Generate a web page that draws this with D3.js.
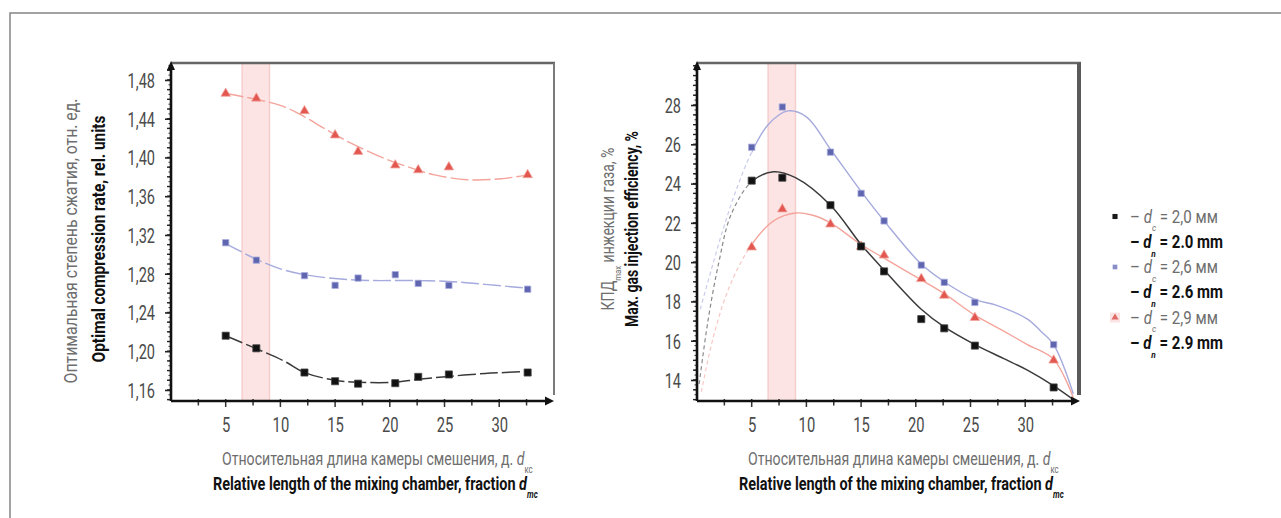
<!DOCTYPE html>
<html>
<head>
<meta charset="utf-8">
<script src="https://cdn.jsdelivr.net/npm/d3@7"></script>
<style>
  html, body { margin: 0; padding: 0; background: #fff; }
  svg { display: block; }
</style>
</head>
<body>
<svg id="fig" width="1281" height="518"></svg>
<script>
// ---- data -------------------------------------------------------------
// Relative mixing-chamber length at which the measurements were taken
const mixLength = [5, 7.8, 12.2, 15, 17.1, 20.5, 22.6, 25.4, 32.6];

// Optimal compression rate, rel. units (nozzle 2.0 / 2.6 / 2.9 mm)
const compression20 = [1.216, 1.203, 1.178, 1.169, 1.1665, 1.167, 1.1735, 1.176, 1.178];
const compression26 = [1.312, 1.294, 1.278, 1.268, 1.2755, 1.279, 1.270, 1.268, 1.264];
const compression29 = [1.466, 1.461, 1.448, 1.423, 1.406, 1.392, 1.387, 1.390, 1.382];

// Max. gas injection efficiency, %
const efficiency20 = [24.15, 24.3, 22.9, 20.8, 19.53, 17.1, 16.63, 15.75, 13.62];
const efficiency26 = [25.85, 27.9, 25.6, 23.5, 22.1, 19.85, 18.97, 17.95, 15.8];
const efficiency29 = [20.76, 22.7, 21.93, 20.8, 20.35, 19.15, 18.3, 17.17, 15.0];

// Smoothed trend lines, [x, y]
const trendCompression20 = [[5,1.216],[7.3,1.205],[10.3,1.190],[12.2,1.178],[15,1.170],[17.1,1.168],[20.5,1.168],[22.6,1.171],[25.4,1.174],[28.7,1.177],[30.5,1.178],[32.6,1.179]];
const trendCompression26 = [[5,1.311],[7.8,1.295],[10,1.285],[12.2,1.279],[15,1.275],[18.3,1.273],[21.6,1.273],[25.4,1.272],[28.7,1.269],[32.6,1.265]];
const trendCompression29 = [[5,1.466],[7.8,1.460],[10.2,1.453],[12.2,1.442],[14,1.430],[16.4,1.415],[19.5,1.399],[22,1.389],[24.1,1.382],[27.1,1.377],[30.2,1.378],[32.6,1.382]];

const trendEfficiency20 = [[0.2,13.8],[1,17.0],[2,20.0],[3.1,22.4],[5,24.1],[7,24.6],[9,24.3],[12.2,22.9],[15,20.9],[17.1,19.6],[20.5,17.6],[22.6,16.7],[25.4,15.8],[28,15.1],[30.2,14.5],[32.6,13.7],[34.4,13.0]];
const trendEfficiency26 = [[0.3,17.6],[1.3,19.6],[2.4,21.7],[3.6,23.7],[5,25.6],[6.5,27.0],[8.3,27.7],[10,27.4],[12.2,25.75],[15,23.6],[17.1,22.1],[20.5,19.9],[22.6,19.0],[25.4,18.1],[27.4,17.8],[30.2,17.1],[31.4,16.5],[32.6,15.8],[34.4,13.3]];
const trendEfficiency29 = [[0.4,13.4],[1.5,16.2],[3,18.8],[5,20.9],[7,22.1],[9,22.5],[10.5,22.4],[12.2,22.0],[15,20.9],[17.1,20.2],[20.5,19.1],[22.6,18.4],[25.4,17.3],[28,16.5],[30.2,15.8],[32.6,15.05],[34.4,13.1]];

// Axis ticks and labels
const xTicks = [5, 10, 15, 20, 25, 30];
const xTickLabels = ["5", "10", "15", "20", "25", "30"];
const yTicksCompression = [1.16, 1.20, 1.24, 1.28, 1.32, 1.36, 1.40, 1.44, 1.48];
const yTickLabelsCompression = ["1,16", "1,20", "1,24", "1,28", "1,32", "1,36", "1,40", "1,44", "1,48"];
const yTicksEfficiency = [14, 16, 18, 20, 22, 24, 26, 28];
const yTickLabelsEfficiency = ["14", "16", "18", "20", "22", "24", "26", "28"];

// Recommended mixing-chamber length range
const optimalZone = [6.5, 9.0];

// Legend entries
const legendRu = ["2,0 мм", "2,6 мм", "2,9 мм"];
const legendEn = ["2.0 mm", "2.6 mm", "2.9 mm"];

// ---- drawing ------------------------------------------------------------
const FONT = "Roboto, 'Noto Sans', sans-serif";
const GRAY_TEXT = "#6e6e6e";
const COLORS = {
  black: { mark: "#121212", line: "#3a3a3a" },
  blue:  { mark: "#5f65ae", line: "#a5aadd" },
  red:   { mark: "#e2574f", line: "#f4a49b" }
};

const svg = d3.select("#fig");
svg.append("rect").attr("width", 1281).attr("height", 518).attr("fill", "#fff");

// page frame
svg.append("rect")
  .attr("x", 10).attr("y", 13).attr("width", 1320).attr("height", 620)
  .attr("fill", "none").attr("stroke", "#8c8c8c").attr("stroke-width", 1.6);

// condensed text with optional subscripts; width (if given) fixes the drawn length
function label(parent, o) {
  const g = parent.append("g");
  const t = g.append("text")
    .attr("text-anchor", o.anchor || "start")
    .attr("font-family", FONT)
    .attr("font-size", o.size)
    .attr("font-weight", o.weight || 400)
    .attr("fill", o.fill || "#111");
  let drop = 0;
  o.parts.forEach(p => {
    const s = typeof p === "string" ? { t: p } : p;
    const ts = t.append("tspan").text(s.t);
    const d = s.sub ? o.size * (o.subDrop || 0.42) : 0;
    if (d !== drop) { ts.attr("dy", d - drop); drop = d; }
    if (s.sub) ts.attr("font-size", o.size * (o.subScale || 0.55));
    if (s.it) ts.attr("font-style", "italic");
  });
  let sx = o.sx || 0.72;
  if (o.width) sx = o.width / t.node().getComputedTextLength();
  g.attr("transform", `translate(${o.x},${o.y}) rotate(${o.rotate || 0}) scale(${sx},1)`);
  return g;
}

function drawPanel(cfg) {
  const g = svg.append("g");
  const x = d3.scaleLinear().domain([0, 35.1]).range(cfg.xRange);
  const y = d3.scaleLinear().domain(cfg.yDomain).range([401, 63]);
  const [L, R] = cfg.xRange;
  const top = 63, bottom = 401;

  // optimal-length band
  g.append("rect")
    .attr("x", x(optimalZone[0])).attr("y", top)
    .attr("width", x(optimalZone[1]) - x(optimalZone[0])).attr("height", bottom - top)
    .attr("fill", "#fce4e4");
  optimalZone.forEach(v => g.append("line")
    .attr("x1", x(v)).attr("x2", x(v)).attr("y1", top).attr("y2", bottom)
    .attr("stroke", "#f6cdcd").attr("stroke-width", 1.5));

  // frame: top and right borders
  g.append("line").attr("x1", L).attr("x2", R).attr("y1", top).attr("y2", top)
    .attr("stroke", "#666").attr("stroke-width", 2.5);
  g.append("line").attr("x1", R - cfg.rightW / 2).attr("x2", R - cfg.rightW / 2)
    .attr("y1", top).attr("y2", 395)
    .attr("stroke", cfg.rightColor).attr("stroke-width", cfg.rightW);

  // clip regions for extrapolated (dashed) and fitted (solid) parts
  const id = cfg.id;
  const defs = svg.append("defs");
  defs.append("clipPath").attr("id", id + "-pre")
    .append("rect").attr("x", L).attr("y", top).attr("width", x(cfg.solidFrom) - L).attr("height", bottom - top);
  defs.append("clipPath").attr("id", id + "-post")
    .append("rect").attr("x", x(cfg.solidFrom)).attr("y", top - 5).attr("width", R - x(cfg.solidFrom)).attr("height", bottom - top + 5);

  const line = d3.line().x(d => x(d[0])).y(d => y(d[1])).curve(d3.curveCatmullRom.alpha(0.5));

  cfg.series.forEach(s => {
    const c = COLORS[s.color];
    g.append("path").datum(s.trend).attr("d", line)
      .attr("fill", "none").attr("stroke", c.line).attr("stroke-width", s.color === "black" ? 1.5 : 1.4)
      .attr("stroke-dasharray", cfg.mainDash)
      .attr("clip-path", `url(#${id}-post)`);
    g.append("path").datum(s.trend).attr("d", line)
      .attr("fill", "none").attr("stroke", c.line).attr("stroke-width", 1.2)
      .attr("stroke-opacity", 0.6).attr("stroke-dasharray", "4,3")
      .attr("clip-path", `url(#${id}-pre)`);
  });

  cfg.series.forEach(s => {
    const c = COLORS[s.color];
    const sym = d3.symbol()
      .type(s.color === "red" ? d3.symbolTriangle : d3.symbolSquare)
      .size(s.color === "black" ? 50 : 40);
    g.selectAll(null).data(mixLength).join("path")
      .attr("transform", (d, i) => `translate(${x(d)},${y(s.values[i])})`)
      .attr("d", sym)
      .attr("fill", c.mark)
      .attr("stroke", s.color === "blue" ? "#a9addf" : s.color === "red" ? "#f2a8a2" : "#444")
      .attr("stroke-width", 0.8);
  });

  // y axis with labels
  const yAxis = d3.axisLeft(y).tickValues(cfg.yTicks)
    .tickFormat((d, i) => cfg.yLabels[i]).tickSize(6).tickPadding(0);
  const ya = g.append("g").attr("transform", `translate(${L},0)`).call(yAxis);
  ya.select(".domain").remove();
  ya.selectAll(".tick line").attr("stroke", "#222").attr("stroke-width", 1.6);
  ya.selectAll(".tick text")
    .attr("x", null).attr("dy", null).attr("y", 7.3)
    .attr("font-family", FONT).attr("font-size", 20.5).attr("fill", "#4a4a4a")
    .attr("transform", "translate(-16,0) scale(0.71,1)");

  // dense minor ticks on y
  const [y0, y1] = cfg.yDomain;
  const minor = d3.range(Math.ceil(y0 / cfg.minorStep), Math.floor(y1 / cfg.minorStep) + 1).map(k => k * cfg.minorStep);
  const micro = d3.range(Math.ceil(y0 / cfg.microStep), Math.floor(y1 / cfg.microStep) + 1).map(k => k * cfg.microStep);
  g.selectAll(null).data(micro).join("line")
    .attr("x1", L - 2.5).attr("x2", L).attr("y1", d => y(d)).attr("y2", d => y(d))
    .attr("stroke", "#333").attr("stroke-width", 1);
  g.selectAll(null).data(minor).join("line")
    .attr("x1", L - 4).attr("x2", L).attr("y1", d => y(d)).attr("y2", d => y(d))
    .attr("stroke", "#222").attr("stroke-width", 1.4);

  // x axis with labels
  const xAxis = d3.axisBottom(x).tickValues(xTicks)
    .tickFormat((d, i) => xTickLabels[i]).tickSize(0);
  const xa = g.append("g").attr("transform", `translate(0,${bottom})`).call(xAxis);
  xa.select(".domain").remove();
  xa.selectAll(".tick text")
    .attr("y", 0).attr("dy", null)
    .attr("font-family", FONT).attr("font-size", 20.5).attr("fill", "#4a4a4a")
    .attr("transform", "translate(0,30.5) scale(0.72,1)");
  const xMinor = d3.range(1, 14).map(k => k * 2.5);
  g.selectAll(null).data(xMinor).join("line")
    .attr("x1", d => x(d)).attr("x2", d => x(d))
    .attr("y1", bottom - 2).attr("y2", d => bottom + (d % 5 === 0 ? 6 : 4.5))
    .attr("stroke", "#333").attr("stroke-width", 1.5);

  // axis lines with arrow heads
  g.append("line").attr("x1", L).attr("x2", L).attr("y1", top + 2).attr("y2", bottom)
    .attr("stroke", "#111").attr("stroke-width", 2.6);
  g.append("line").attr("x1", L).attr("x2", R - 6).attr("y1", bottom).attr("y2", bottom)
    .attr("stroke", "#111").attr("stroke-width", 2.6);
  g.append("path").attr("d", `M${L},${top - 2}L${L - 4},${top + 7}L${L + 4},${top + 7}Z`).attr("fill", "#111");
  g.append("path").attr("d", `M${R - 1},${bottom}L${R - 10},${bottom - 4.5}L${R - 10},${bottom + 4.5}Z`).attr("fill", "#111");

  // axis titles
  cfg.yTitles(g);
  const off = L - 171;
  label(g, { x: 222 + off, y: 465, size: 19, fill: GRAY_TEXT, width: 311,
    parts: ["Относительная длина камеры смешения, д. ", { t: "d", it: true }, { t: "кс", sub: true }] });
  label(g, { x: 213 + off, y: 490, size: 19, weight: 700, fill: "#111", width: 325,
    parts: ["Relative length of the mixing chamber, fraction ", { t: "d", it: true }, { t: "mc", sub: true, it: true }] });
}

drawPanel({
  id: "comp",
  xRange: [171, 555],
  yDomain: [1.1486, 1.4975],
  yTicks: yTicksCompression,
  yLabels: yTickLabelsCompression,
  minorStep: 0.01, microStep: 0.005,
  rightW: 2, rightColor: "#7a7a7a",
  solidFrom: 0,
  mainDash: "18,4",
  series: [
    { color: "red", values: compression29, trend: trendCompression29 },
    { color: "blue", values: compression26, trend: trendCompression26 },
    { color: "black", values: compression20, trend: trendCompression20 }
  ],
  yTitles: g => {
    label(g, { x: 76.5, y: 241, rotate: -90, anchor: "middle", size: 18, fill: GRAY_TEXT, width: 285,
      parts: ["Оптимальная степень сжатия, отн. ед."] });
    label(g, { x: 105, y: 239, rotate: -90, anchor: "middle", size: 19, weight: 700, fill: "#111", width: 247,
      parts: ["Optimal compression rate, rel. units"] });
  }
});

drawPanel({
  id: "eff",
  xRange: [697, 1081],
  yDomain: [12.93, 30.14],
  yTicks: yTicksEfficiency,
  yLabels: yTickLabelsEfficiency,
  minorStep: 0.5, microStep: 0.25,
  rightW: 4, rightColor: "#5a5a5a",
  solidFrom: 5,
  mainDash: null,
  series: [
    { color: "red", values: efficiency29, trend: trendEfficiency29 },
    { color: "blue", values: efficiency26, trend: trendEfficiency26 },
    { color: "black", values: efficiency20, trend: trendEfficiency20 }
  ],
  yTitles: g => {
    label(g, { x: 613.5, y: 229, rotate: -90, anchor: "middle", size: 18, fill: GRAY_TEXT, width: 163,
      parts: ["КПД", { t: "max", sub: true }, " инжекции газа, %"] });
    label(g, { x: 638, y: 229, rotate: -90, anchor: "middle", size: 19, weight: 700, fill: "#111", width: 196,
      parts: ["Max. gas injection efficiency, %"] });
  }
});

// ---- legend -------------------------------------------------------------
const legend = svg.append("g");
const legendColors = ["black", "blue", "red"];
legendColors.forEach((key, i) => {
  const cy = 216.5 + i * 50.5;
  if (key === "red") {
    legend.append("rect").attr("x", 1110).attr("y", cy - 5).attr("width", 10).attr("height", 10).attr("fill", "#fbe3e3");
  }
  legend.append("path")
    .attr("transform", `translate(1115,${cy})`)
    .attr("d", d3.symbol().type(key === "red" ? d3.symbolTriangle : d3.symbolSquare).size(key === "black" ? 26 : 22))
    .attr("fill", key === "black" ? "#1a1a1a" : key === "blue" ? "#8a8ec8" : "#e06a66");
  label(legend, { x: 1130, y: cy + 6.2, size: 17.5, fill: GRAY_TEXT, width: 88, subDrop: 0.5,
    parts: ["– ", { t: "d", it: true }, { t: "c", sub: true, it: true }, " = " + legendRu[i]] });
  label(legend, { x: 1130, y: cy + 25 + 6.4, size: 18, weight: 700, fill: "#111", width: 93, subDrop: 0.5,
    parts: ["– ", { t: "d", it: true }, { t: "n", sub: true, it: true }, " = " + legendEn[i]] });
});
</script>
</body>
</html>
